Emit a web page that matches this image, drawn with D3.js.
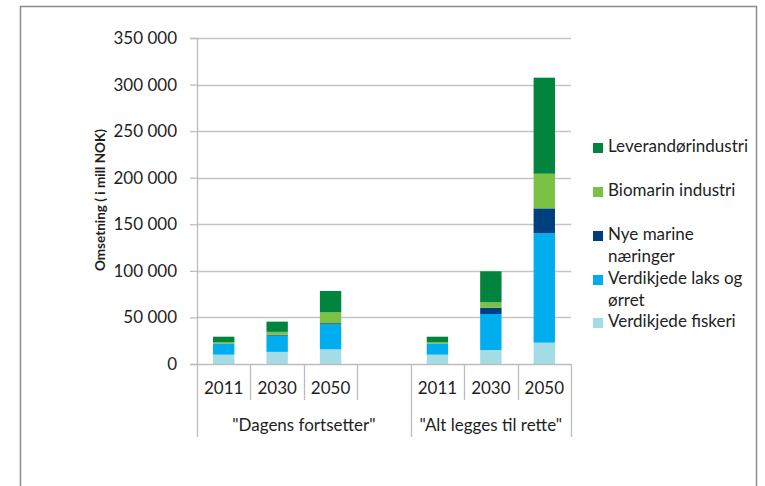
<!DOCTYPE html>
<html>
<head>
    <meta charset="utf-8">
    <title>Omsetning</title>
    <script src="https://d3js.org/d3.v7.min.js"></script>
    <style>
        body { margin: 0; background: #fff; }
        text { font-family: Lato, "Open Sans", sans-serif; fill: #1e1e1e; }
        .tick-label { font-size: 17px; }
        .legend-label { font-size: 17px; }
    </style>
</head>
<body>
    <div id="chart"></div>

    <script>
        // kategorier (tom plass mellom de to scenarioene)
        const slots = ["D2011", "D2030", "D2050", "gap", "A2011", "A2030", "A2050"];
        const yearLabels = ["2011", "2030", "2050", "", "2011", "2030", "2050"];
        const groups = [
            {name: "\"Dagens fortsetter\"", from: "D2011", to: "gap"},
            {name: "\"Alt legges til rette\"", from: "A2011", to: "A2050"}
        ];

        // serier (mill NOK), lest av bildet
        const fiskeri      = [10000, 13000, 15700, 0, 10000, 15000, 22900];
        const laks         = [11500, 17500, 26900, 0, 11500, 38700, 117700];
        const nyeMarine    = [300, 1000, 1200, 0, 300, 6800, 26500];
        const biomarin     = [1500, 3000, 11700, 0, 1500, 5700, 37200];
        const leverandor   = [6000, 11000, 22900, 0, 6000, 33300, 103100];

        const seriesKeys = ["fiskeri", "laks", "nye", "bio", "lev"];
        const seriesNames = {
            lev: ["Leverandørindustri"],
            bio: ["Biomarin industri"],
            nye: ["Nye marine", "næringer"],
            laks: ["Verdikjede laks og", "ørret"],
            fiskeri: ["Verdikjede fiskeri"]
        };
        const colors = {
            fiskeri: "#a4dce6",
            laks: "#00aeef",
            nye: "#003f7f",
            bio: "#7bc143",
            lev: "#00843e"
        };
        const yTicks = [0, 50000, 100000, 150000, 200000, 250000, 300000, 350000];

        const table = slots.map((s, i) => ({
            slot: s,
            fiskeri: fiskeri[i], laks: laks[i], nye: nyeMarine[i],
            bio: biomarin[i], lev: leverandor[i]
        }));

        const W = 765, H = 486;
        const plot = {left: 197, right: 571, top: 38, bottom: 364};

        const svg = d3.select("#chart").append("svg")
            .attr("width", W).attr("height", H);

        // ramme
        svg.append("rect")
            .attr("x", 20.5).attr("y", 6.5)
            .attr("width", 736).attr("height", 500)
            .attr("fill", "none")
            .attr("stroke", "#8c8c8c")
            .attr("stroke-width", 1.5);

        const x = d3.scaleBand()
            .domain(slots)
            .range([plot.left, plot.right])
            .padding(0);

        const y = d3.scaleLinear()
            .domain([0, 350000])
            .range([plot.bottom, plot.top]);

        // rutenett
        svg.append("g")
            .selectAll("line")
            .data(yTicks.slice(1))
            .join("line")
            .attr("x1", plot.left).attr("x2", plot.right)
            .attr("y1", d => Math.round(y(d)) + 0.5)
            .attr("y2", d => Math.round(y(d)) + 0.5)
            .attr("stroke", "#c4c4c4").attr("stroke-width", 1.3);

        // y-akse
        const yAxis = svg.append("g")
            .attr("transform", `translate(${plot.left},0)`)
            .call(d3.axisLeft(y).tickValues(yTicks).tickSize(7).tickPadding(13)
                .tickFormat(d => d3.format(",")(d).replace(/,/g, " ")));
        yAxis.select(".domain").attr("stroke", "#bdbdbd").attr("stroke-width", 1.3);
        yAxis.selectAll(".tick line").attr("stroke", "#bdbdbd").attr("stroke-width", 1.3);
        yAxis.selectAll(".tick text")
            .attr("class", "tick-label")
            .attr("fill", "#1e1e1e")
            .style("font-family", "Lato, sans-serif")
            .style("font-size", "17px");

        // y-tittel
        svg.append("text")
            .attr("transform", "translate(102,200) rotate(-90)")
            .attr("text-anchor", "middle")
            .attr("dominant-baseline", "middle")
            .style("font-size", "13.5px")
            .style("font-weight", "bold")
            .text("Omsetning ( i mill NOK)");

        // stablede søyler
        const stack = d3.stack().keys(seriesKeys);
        const stacked = stack(table);
        const barW = x.bandwidth() * 0.4;

        svg.append("g")
            .selectAll("g")
            .data(stacked)
            .join("g")
            .attr("fill", d => colors[d.key])
            .selectAll("rect")
            .data(d => d.filter(p => p[1] > p[0]))
            .join("rect")
            .attr("x", d => x(d.data.slot) + (x.bandwidth() - barW) / 2)
            .attr("y", d => y(d[1]))
            .attr("width", barW)
            .attr("height", d => y(d[0]) - y(d[1]));

        // x-akse
        svg.append("line")
            .attr("x1", plot.left).attr("x2", plot.right)
            .attr("y1", plot.bottom + 0.5).attr("y2", plot.bottom + 0.5)
            .attr("stroke", "#bdbdbd").attr("stroke-width", 1.3);

        // skillelinjer mellom år
        const boundaries = slots.map(s => x(s)).concat([plot.right]);
        const groupEdges = new Set([x("D2011"), x("A2011"), plot.right]);
        svg.append("g")
            .selectAll("line")
            .data(boundaries)
            .join("line")
            .attr("x1", d => Math.round(d) + 0.5).attr("x2", d => Math.round(d) + 0.5)
            .attr("y1", plot.bottom)
            .attr("y2", d => groupEdges.has(d) ? 437 : 400)
            .attr("stroke", "#bdbdbd").attr("stroke-width", 1.3);

        // årstall
        svg.append("g")
            .selectAll("text")
            .data(slots)
            .join("text")
            .attr("class", "tick-label")
            .attr("x", d => x(d) + x.bandwidth() / 2)
            .attr("y", 390)
            .attr("text-anchor", "middle")
            .attr("dominant-baseline", "middle")
            .text((d, i) => yearLabels[i]);

        // scenarionavn
        svg.append("g")
            .selectAll("text")
            .data(groups)
            .join("text")
            .attr("class", "tick-label")
            .attr("x", d => {
                const a = x(d.from);
                const b = x(d.to) + x.bandwidth();
                return (a + b) / 2;
            })
            .attr("y", 427)
            .attr("text-anchor", "middle")
            .attr("dominant-baseline", "middle")
            .text(d => d.name);

        // tegnforklaring
        const legendOrder = ["lev", "bio", "nye", "laks", "fiskeri"];
        const legendY = {lev: 148, bio: 192, nye: 236, laks: 280, fiskeri: 323};
        const legend = svg.append("g");
        legendOrder.forEach(k => {
            const g = legend.append("g").attr("transform", `translate(593,${legendY[k]})`);
            g.append("rect")
                .attr("x", 0).attr("y", -5)
                .attr("width", 10).attr("height", 10)
                .attr("fill", colors[k]);
            seriesNames[k].forEach((line, j) => {
                g.append("text")
                    .attr("class", "legend-label")
                    .attr("x", 15)
                    .attr("y", j * 22)
                    .attr("dominant-baseline", "middle")
                    .text(line);
            });
        });
    </script>
</body>
</html>
